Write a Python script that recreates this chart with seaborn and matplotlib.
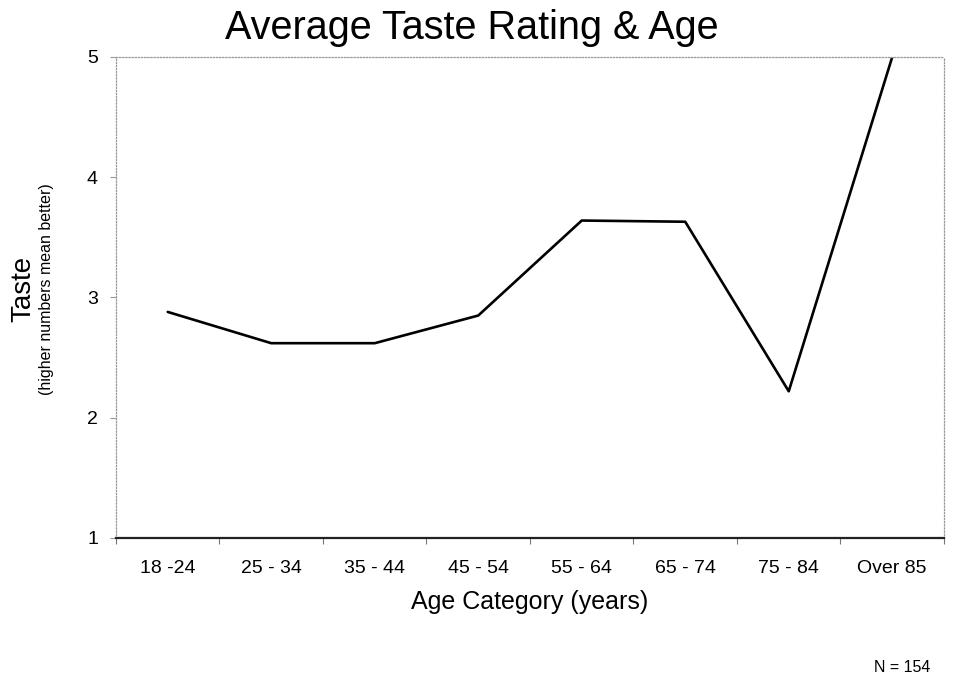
import matplotlib
matplotlib.use("Agg")
import matplotlib.pyplot as plt
from matplotlib.ticker import FixedLocator
import seaborn as sns
import pandas as pd

# Mean taste scores by age band
age_groups = ["18 -24", "25 - 34", "35 - 44", "45 - 54", "55 - 64", "65 - 74", "75 - 84", "Over 85"]
taste_scores = [2.88, 2.62, 2.62, 2.85, 3.64, 3.63, 2.22, 5.0]
y_ticks = [1, 2, 3, 4, 5]

sns.set_theme(style="white")
plt.rcParams["font.family"] = ["Liberation Sans", "DejaVu Sans"]
plt.rcParams["text.color"] = "black"
plt.rcParams["axes.labelcolor"] = "black"
plt.rcParams["xtick.color"] = "black"
plt.rcParams["ytick.color"] = "black"

df = pd.DataFrame({"pos": range(len(age_groups)), "taste": taste_scores})

fig = plt.figure(figsize=(9.61, 6.81), dpi=100)
ax = fig.add_axes([0.1207, 0.21, 0.8616, 0.7063])

sns.lineplot(data=df, x="pos", y="taste", ax=ax, color="black", linewidth=1.9)

ax.set_xlim(-0.5, len(age_groups) - 0.5)
ax.set_ylim(1, 5)
ax.set_yticks(y_ticks)
ax.set_yticklabels([str(v) for v in y_ticks], fontsize=14)
ax.set_xticks(range(len(age_groups)))
ax.set_xticklabels(age_groups, fontsize=14)
ax.xaxis.set_minor_locator(FixedLocator([i + 0.5 for i in range(-1, len(age_groups))]))

ax.tick_params(axis="x", which="major", bottom=True, length=0, pad=16)
ax.tick_params(axis="x", which="minor", bottom=True, length=4, width=0.8,
               color="#777777", direction="out")
ax.tick_params(axis="y", which="major", left=True, length=4, width=0.8,
               color="#999999", direction="out", pad=9)

for side in ["left", "top", "right"]:
    ax.spines[side].set_visible(True)
    ax.spines[side].set_color("#999999")
    ax.spines[side].set_linewidth(0.9)
    ax.spines[side].set_linestyle((0, (1, 1.5)))
ax.spines["bottom"].set_color("#222222")
ax.spines["bottom"].set_linewidth(1.6)

ax.set_xlabel("Age Category (years)", fontsize=18, labelpad=9)
ax.set_ylabel("")
fig.text(0.024, 0.575, "Taste", rotation=90, fontsize=20, ha="center", va="center")
fig.text(0.048, 0.575, "(higher numbers mean better)", rotation=90, fontsize=11.5,
         ha="center", va="center")

fig.text(0.491, 0.959, "Average Taste Rating & Age", fontsize=28.5, ha="center", va="center")
fig.text(0.968, 0.02, "N = 154", fontsize=11.5, ha="right", va="center")

fig.savefig("out.png", dpi=100)
